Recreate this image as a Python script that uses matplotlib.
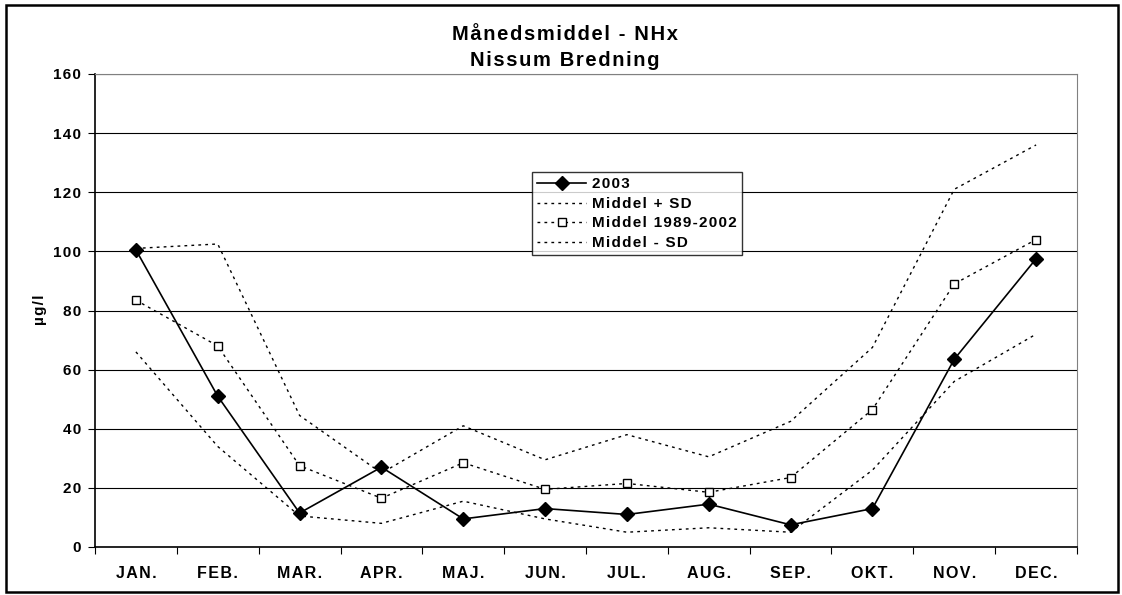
import matplotlib
matplotlib.use("Agg")
import matplotlib.pyplot as plt
from matplotlib.patches import Rectangle

plt.rcParams['font.family'] = ['Liberation Sans', 'DejaVu Sans']
plt.rcParams['font.weight'] = 'bold'

# data
months = ['JAN.', 'FEB.', 'MAR.', 'APR.', 'MAJ.', 'JUN.', 'JUL.', 'AUG.', 'SEP.', 'OKT.', 'NOV.', 'DEC.']
v2003 = [100.5, 51, 11.5, 27, 9.5, 13, 11, 14.5, 7.5, 13, 63.5, 97.5]
plus_sd = [101, 102.5, 44.5, 25, 41, 29.5, 38, 30.5, 42.5, 67.5, 121, 136]
middel = [83.5, 68, 27.5, 16.5, 28.5, 19.5, 21.5, 18.5, 23.5, 46.5, 89, 104]
minus_sd = [66, 34, 10.5, 8, 15.5, 9.5, 5, 6.5, 5, 26, 56, 72]

W, H = 1122, 595


def sp(s):
    # letter spacing with hair spaces
    return '\u200a'.join(s)


fig = plt.figure(figsize=(W / 100, H / 100), dpi=100)
ax = fig.add_axes([95/W, 1-547/H, (1077-95)/W, (547-74)/H])

x = list(range(len(months)))
dot = (0, (2, 3))
ax.plot(x, v2003, color='black', lw=1.2, marker='D', ms=7, mfc='black', label=sp('2003'), zorder=5)
ax.plot(x, plus_sd, color='black', lw=1, ls=dot, label=sp('Middel + SD'))
ax.plot(x, middel, color='black', lw=1, ls=dot, marker='s', ms=6, mfc='white', mew=1, label=sp('Middel 1989-2002'))
ax.plot(x, minus_sd, color='black', lw=1, ls=dot, label=sp('Middel - SD'))

ax.set_xlim(-0.5, 11.5)
ax.set_ylim(0, 160)
ax.set_yticks(range(0, 161, 20))
ax.set_yticklabels([sp(str(v)) for v in range(0, 161, 20)], fontsize=11, fontweight='bold')
ax.yaxis.grid(True, color='black', lw=0.8)
ax.set_axisbelow(True)
ax.set_xticks([i - 0.5 for i in range(13)])
ax.set_xticklabels([])
ax.set_xticks(x, minor=True)
ax.set_xticklabels([sp(m) for m in months], minor=True, fontsize=11.5, fontweight='bold')
ax.tick_params(axis='x', which='minor', length=0, pad=14)
ax.tick_params(axis='x', which='major', length=5, direction='out')
ax.tick_params(axis='y', length=5, direction='out', pad=5)
ax.spines['top'].set_color('#808080')
ax.spines['right'].set_color('#808080')
ax.spines['left'].set_linewidth(1.2)
ax.spines['bottom'].set_linewidth(1.2)

fig.text(40/W, 1-310/H, sp('µg/l'), rotation=90, ha='center', va='center', fontsize=11, fontweight='bold')

fig.text(565/W, 1-34/H, sp('Månedsmiddel - NHx'), ha='center', va='center', fontsize=14.5, fontweight='bold')
fig.text(565/W, 1-60/H, sp('Nissum Bredning'), ha='center', va='center', fontsize=14.5, fontweight='bold')

leg = ax.legend(loc='upper left', bbox_to_anchor=((532-95)/982, (547-172)/473), fontsize=11,
                frameon=True, fancybox=False, edgecolor='black', handlelength=3.2,
                borderpad=0.35, labelspacing=0.36, handletextpad=0.4, borderaxespad=0)
leg.get_frame().set_linewidth(1)
leg.set_zorder(10)

fig.patches.append(Rectangle((6/W, 3/H), 1112/W, 587/H, transform=fig.transFigure,
                             fill=False, edgecolor='black', lw=1.8))

fig.savefig('out.png', dpi=100)
